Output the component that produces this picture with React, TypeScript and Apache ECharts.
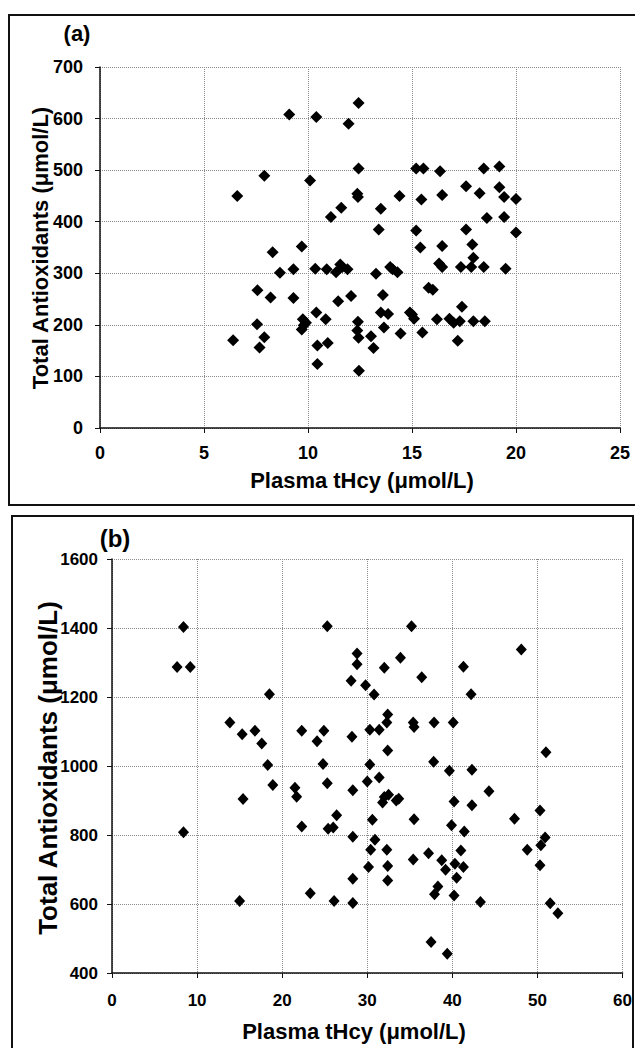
import React, { useEffect, useRef } from "react";
import * as echarts from "echarts";

// Panel (a): Plasma tHcy vs Total Antioxidants
const xA = [6.6, 6.4, 7.55, 7.57, 7.67, 7.9, 7.9, 8.2, 8.3, 8.65, 9.1, 9.3, 9.3, 9.7, 9.75, 9.7, 9.8, 9.9, 10.1, 10.4, 10.35, 10.4, 10.45, 10.45, 10.85, 10.9, 10.95, 11.1, 11.45, 11.35, 11.55, 11.6, 11.65, 11.9, 11.95, 12.07, 12.37, 12.4, 12.43, 12.43, 12.4, 12.37, 12.43, 12.45, 13.03, 13.15, 13.27, 13.4, 13.5, 13.6, 13.5, 13.65, 13.85, 13.95, 14.07, 14.3, 14.4, 14.45, 14.9, 15.0, 15.1, 15.2, 15.2, 15.4, 15.45, 15.55, 15.5, 15.8, 16.0, 16.2, 16.3, 16.35, 16.45, 16.45, 16.45, 16.8, 17.0, 17.2, 17.3, 17.4, 17.35, 17.6, 17.6, 17.85, 17.9, 17.95, 17.95, 18.25, 18.45, 18.45, 18.5, 18.6, 19.2, 19.2, 19.43, 19.43, 19.5, 20.0, 20.0];
const yA = [450, 170, 201, 267, 156, 176, 489, 253, 341, 301, 608, 308, 252, 352, 211, 191, 199, 204, 480, 603, 309, 224, 160, 124, 211, 308, 165, 409, 246, 302, 317, 427, 312, 308, 590, 256, 454, 448, 503, 630, 206, 189, 175, 111, 178, 155, 299, 385, 425, 258, 224, 195, 221, 312, 308, 302, 450, 183, 224, 220, 212, 383, 503, 350, 443, 503, 185, 272, 268, 211, 319, 498, 452, 353, 312, 212, 204, 169, 207, 235, 312, 469, 385, 312, 356, 330, 207, 455, 503, 312, 207, 407, 507, 467, 448, 409, 309, 444, 379];

// Panel (b)
const xB = [7.65, 9.2, 8.4, 8.4, 13.85, 15.3, 15.4, 15.0, 16.8, 17.6, 18.5, 18.3, 18.9, 21.5, 21.7, 22.3, 22.3, 23.3, 24.1, 24.8, 24.9, 25.3, 25.3, 25.4, 26.0, 26.1, 26.4, 28.1, 28.2, 28.3, 28.3, 28.3, 28.3, 28.8, 28.8, 29.8, 30.0, 30.3, 30.3, 30.15, 30.4, 30.6, 30.8, 30.9, 31.4, 31.4, 31.8, 32.0, 32.0, 32.3, 32.4, 32.4, 32.3, 32.4, 32.4, 32.5, 33.4, 33.7, 33.9, 35.2, 35.4, 35.5, 35.5, 35.4, 36.4, 37.2, 37.5, 37.85, 37.8, 37.9, 38.3, 38.75, 39.2, 39.4, 39.65, 39.9, 40.1, 40.2, 40.2, 40.3, 40.5, 41.0, 41.3, 41.3, 41.4, 42.2, 42.3, 42.3, 43.3, 44.3, 47.3, 48.1, 48.8, 50.3, 50.3, 50.4, 50.9, 51.0, 51.5, 52.4];
const yB = [1287, 1287, 1403, 808, 1126, 1092, 904, 609, 1102, 1065, 1208, 1003, 945, 937, 911, 1102, 825, 631, 1072, 1006, 1102, 1405, 950, 818, 822, 609, 857, 1247, 1085, 930, 795, 673, 603, 1326, 1295, 1234, 955, 1004, 1105, 707, 757, 844, 1207, 786, 1105, 967, 894, 910, 1285, 1126, 1149, 1045, 757, 710, 668, 917, 900, 905, 1314, 1405, 1126, 1113, 846, 729, 1257, 747, 490, 1126, 1012, 628, 651, 727, 699, 456, 986, 828, 1126, 897, 625, 717, 676, 755, 1288, 707, 810, 1208, 989, 886, 606, 927, 847, 1338, 757, 871, 712, 770, 793, 1040, 602, 573];

const xTicksA = { min: 0, max: 25, interval: 5 };
const yTicksA = { min: 0, max: 700, interval: 100 };
const xTicksB = { min: 0, max: 60, interval: 10 };
const yTicksB = { min: 400, max: 1600, interval: 200 };

const xTitle = "Plasma tHcy (\u03bcmol/L)";
const yTitle = "Total Antioxidants (\u03bcmol/L)";

const FONT = "'Liberation Sans', Arial, sans-serif";

function axis(ticks: any, gridIndex: number, fontSize: number, margin: number) {
  return {
    type: "value",
    gridIndex,
    min: ticks.min,
    max: ticks.max,
    interval: ticks.interval,
    axisLine: { show: true, onZero: false, lineStyle: { color: "#111", width: 1.5 } },
    axisTick: { show: true, inside: false, length: 5, lineStyle: { color: "#111", width: 1 } },
    axisLabel: {
      show: true,
      margin,
      color: "#000",
      fontFamily: FONT,
      fontWeight: "bold",
      fontSize,
      formatter: (v: number) => String(v),
    },
    splitLine: { show: true, lineStyle: { type: "dotted", color: "#8a8a8a", width: 1 } },
  };
}

export default function App() {
  const ref = useRef<HTMLDivElement>(null);
  useEffect(() => {
    if (!ref.current) return;
    const chart = echarts.init(ref.current, undefined, { renderer: "svg" });
    const dataA = xA.map((x, i) => [x, yA[i]]);
    const dataB = xB.map((x, i) => [x, yB[i]]);
    chart.setOption({
      animation: false,
      backgroundColor: "#fff",
      grid: [
        { left: 100, top: 67, width: 520, height: 361 },
        { left: 112, top: 559, width: 511, height: 414 },
      ],
      xAxis: [axis(xTicksA, 0, 18, 16), axis(xTicksB, 1, 17, 19)],
      yAxis: [axis(yTicksA, 0, 18, 17), axis(yTicksB, 1, 17, 14)],
      series: [
        {
          type: "scatter",
          xAxisIndex: 0,
          yAxisIndex: 0,
          data: dataA,
          symbol: "diamond",
          symbolSize: 12,
          itemStyle: { color: "#000", opacity: 1 },
        },
        {
          type: "scatter",
          xAxisIndex: 1,
          yAxisIndex: 1,
          data: dataB,
          symbol: "diamond",
          symbolSize: [11, 12],
          itemStyle: { color: "#000", opacity: 1 },
        },
      ],
      graphic: [
        {
          type: "rect",
          shape: { x: 9, y: 15, width: 640, height: 490 },
          style: { fill: "none", stroke: "#111", lineWidth: 2 },
          silent: true,
        },
        {
          type: "rect",
          shape: { x: 12, y: 516, width: 621, height: 545 },
          style: { fill: "none", stroke: "#111", lineWidth: 2 },
          silent: true,
        },
        {
          type: "text",
          x: 77,
          y: 33,
          style: { text: "(a)", font: `bold 22px ${FONT}`, fill: "#000", align: "center", verticalAlign: "middle" },
        },
        {
          type: "text",
          x: 115,
          y: 538,
          style: { text: "(b)", font: `bold 24px ${FONT}`, fill: "#000", align: "center", verticalAlign: "middle" },
        },
        {
          type: "text",
          x: 362,
          y: 480,
          style: { text: xTitle, font: `bold 22px ${FONT}`, fill: "#000", align: "center", verticalAlign: "middle" },
        },
        {
          type: "text",
          x: 40,
          y: 248,
          rotation: Math.PI / 2,
          style: { text: yTitle, font: `bold 22px ${FONT}`, fill: "#000", align: "center", verticalAlign: "middle" },
        },
        {
          type: "text",
          x: 354,
          y: 1031,
          style: { text: xTitle, font: `bold 22px ${FONT}`, fill: "#000", align: "center", verticalAlign: "middle" },
        },
        {
          type: "text",
          x: 48,
          y: 768,
          rotation: Math.PI / 2,
          style: { text: yTitle, font: `bold 26px ${FONT}`, fill: "#000", align: "center", verticalAlign: "middle" },
        },
      ],
    });
    return () => chart.dispose();
  }, []);
  return (
    <div
      ref={ref}
      style={{ position: "absolute", left: 0, top: 0, width: 635, height: 1048, background: "#fff" }}
    />
  );
}
